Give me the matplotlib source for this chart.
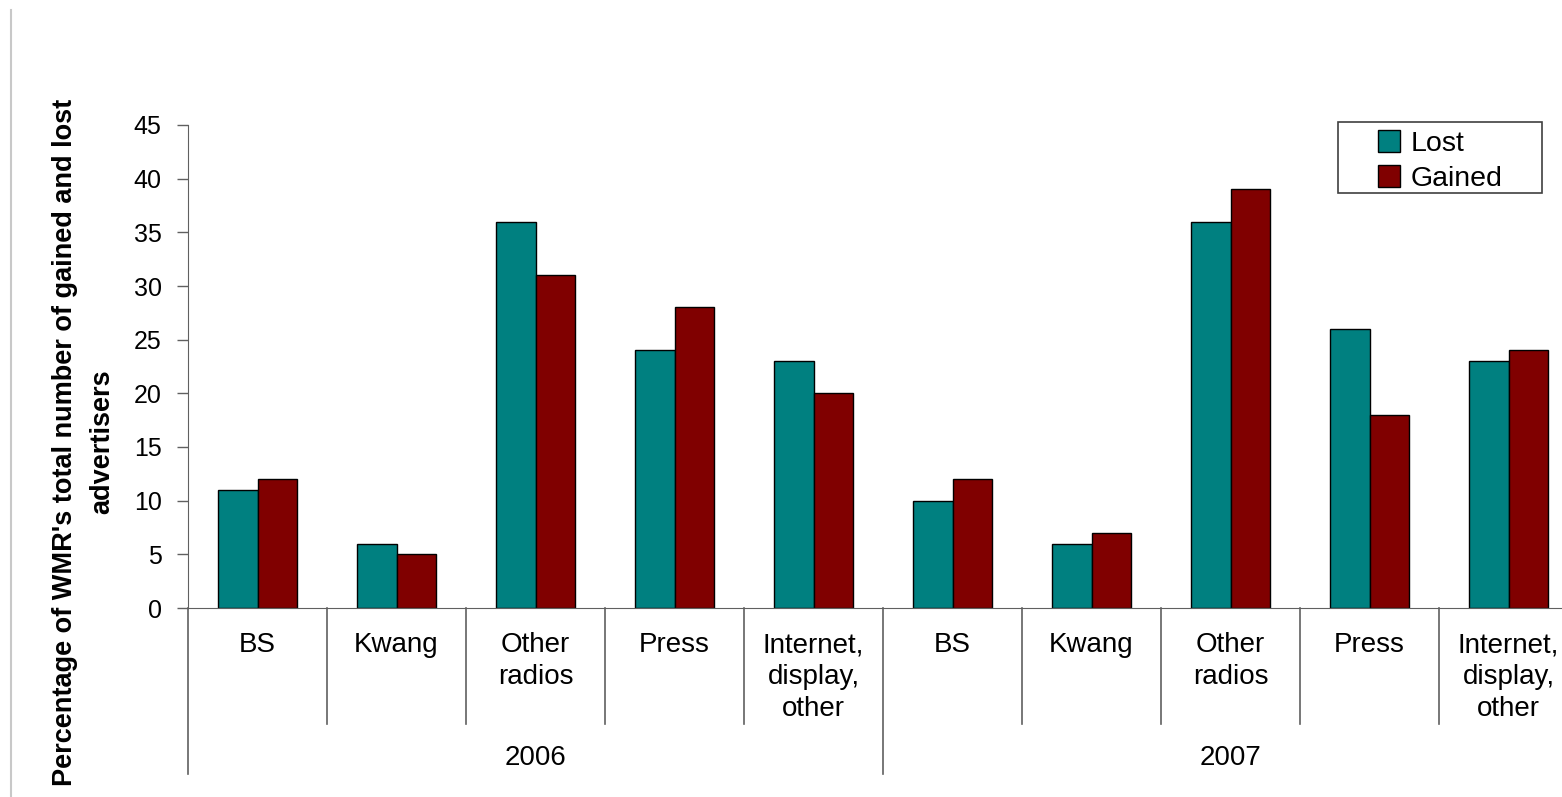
import matplotlib
matplotlib.use("Agg")
import matplotlib.pyplot as plt
from matplotlib.lines import Line2D
from matplotlib.patches import Rectangle
import numpy as np

plt.rcParams['font.family'] = ['Liberation Sans', 'DejaVu Sans']

categories = ["BS", "Kwang", "Other\nradios", "Press", "Internet,\ndisplay,\nother"]
years = ["2006", "2007"]
lost = [11, 6, 36, 24, 23, 10, 6, 36, 26, 23]
gained = [12, 5, 31, 28, 20, 12, 7, 39, 18, 24]

W, H = 1562, 797
fig = plt.figure(figsize=(W / 100, H / 100), dpi=100)
ax = fig.add_axes([188 / W, (H - 608) / H, 1390 / W, 483 / H])

x = np.arange(len(lost))
bw = 0.285
ax.bar(x - bw / 2, lost, bw, color="#008080", edgecolor="black", linewidth=1, label="Lost")
ax.bar(x + bw / 2, gained, bw, color="#800000", edgecolor="black", linewidth=1, label="Gained")

ax.set_xlim(-0.5, len(lost) - 0.5)
ax.set_ylim(0, 45)
ax.set_yticks(range(0, 46, 5))
ax.set_xticks([])
ax.tick_params(axis="y", labelsize=18, length=8, width=1, color="#606060", pad=11)

for s in ["top", "right"]:
    ax.spines[s].set_visible(False)
ax.spines["left"].set_color("#606060")
ax.spines["bottom"].set_color("#606060")

# two level category axis
gray = "#606060"
low = -116 / 483
deep = -166 / 483
trans = ax.get_xaxis_transform()
n = len(categories)
for i in range(len(lost) + 1):
    xb = i - 0.5
    yb = deep if i % n == 0 else low
    ax.plot([xb, xb], [0, yb], color=gray, lw=1.2, transform=trans, clip_on=False)
for i in range(len(lost)):
    ax.text(i, -24 / 483, categories[i % n], transform=trans, ha="center", va="top",
            fontsize=20, linespacing=1.3)
for j, yr in enumerate(years):
    ax.text(j * n + (n - 1) / 2, -137 / 483, yr, transform=trans, ha="center", va="top",
            fontsize=20)

fig.text(84 / W, (H - 442) / H,
         "Percentage of WMR's total number of gained and lost\nadvertisers",
         rotation=90, ha="center", va="center", multialignment="center",
         fontsize=19.5, fontweight="bold", linespacing=1.55)

# legend box drawn separately so it can be wider than the entries
fig.add_artist(Rectangle((1338 / W, (H - 193) / H), 204 / W, 71 / H, facecolor="white",
                         edgecolor="#404040", lw=1.2, transform=fig.transFigure, zorder=3))
leg = ax.legend(loc="center", bbox_to_anchor=(1440 / W, (H - 161) / H),
                bbox_transform=fig.transFigure, fontsize=20.5, frameon=False,
                handlelength=0.8, handleheight=0.8, handletextpad=0.35,
                borderpad=0, labelspacing=0.3)
leg.set_zorder(4)
fig.add_artist(leg)

fig.add_artist(Line2D([11 / W, 11 / W], [0, (H - 10) / H], color="#c8c8c8", lw=1.5,
                      transform=fig.transFigure))

fig.savefig("out.png", dpi=100)
